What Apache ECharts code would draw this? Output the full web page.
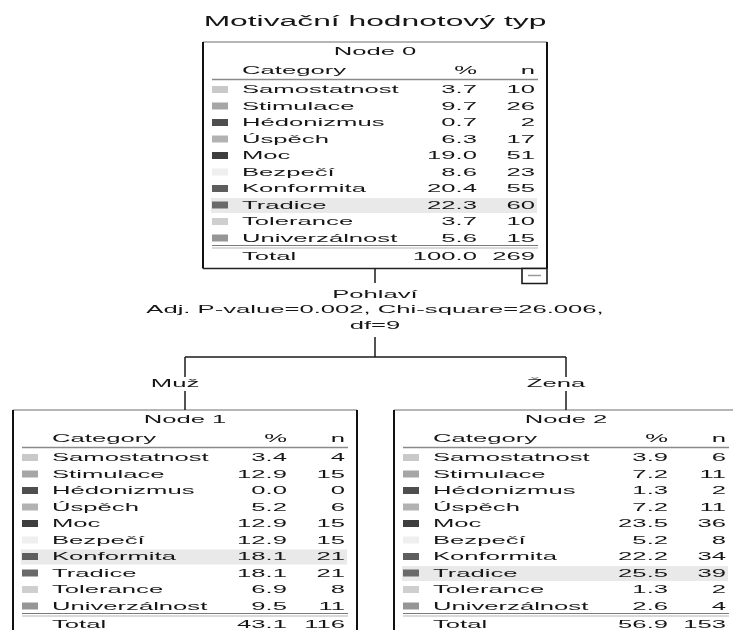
<!DOCTYPE html>
<html>
<head>
<meta charset="utf-8">
<script src="https://cdn.jsdelivr.net/npm/echarts/dist/echarts.min.js"></script>
<style>
html,body{margin:0;padding:0;background:#fff;}
#chart{width:733px;height:630px;}
</style>
</head>
<body>
<div id="chart"></div>
<script>
// ---- data ----
const titleText = 'Motivační hodnotový typ';
const categories = ['Samostatnost','Stimulace','Hédonizmus','Úspěch','Moc','Bezpečí','Konformita','Tradice','Tolerance','Univerzálnost'];
const nodeLabels = ['Node 0','Node 1','Node 2'];
const node0Pct = [3.7, 9.7, 0.7, 6.3, 19.0, 8.6, 20.4, 22.3, 3.7, 5.6];
const node0N   = [10, 26, 2, 17, 51, 23, 55, 60, 10, 15];
const node0Total = [100.0, 269];
const node1Pct = [3.4, 12.9, 0.0, 5.2, 12.9, 12.9, 18.1, 18.1, 6.9, 9.5];
const node1N   = [4, 15, 0, 6, 15, 15, 21, 21, 8, 11];
const node1Total = [43.1, 116];
const node2Pct = [3.9, 7.2, 1.3, 7.2, 23.5, 5.2, 22.2, 25.5, 1.3, 2.6];
const node2N   = [6, 11, 2, 11, 36, 8, 34, 39, 2, 4];
const node2Total = [56.9, 153];
const splitLines = ['Pohlaví', 'Adj. P-value=0.002, Chi-square=26.006,', 'df=9'];
const branchLabels = ['Muž', 'Žena'];
const headerLabels = ['Category', '%', 'n'];
const totalLabel = 'Total';

// ---- styles ----
const swatchColors = ['#c9c9c9','#a6a6a6','#4e4e4e','#b2b2b2','#3e3e3e','#efefef','#5e5e5e','#6a6a6a','#cfcfcf','#969696'];
const FONT = '"Liberation Sans", Arial, sans-serif';
const SX = 2.33;
const TXT = '#161616';

const chart = echarts.init(document.getElementById('chart'), null, {renderer: 'canvas'});
const els = [];

function text(str, x, y, size, align, sx) {
  els.push({
    type: 'text', x: x, y: y, scaleX: sx || SX, scaleY: 1,
    style: {text: str, font: size + 'px ' + FONT, fill: TXT,
      align: align, textAlign: align, verticalAlign: 'middle', textVerticalAlign: 'middle'}
  });
}
function line(x1, y1, x2, y2, color, w) {
  els.push({type: 'line', shape: {x1: x1, y1: y1, x2: x2, y2: y2},
    style: {stroke: color, lineWidth: w}});
}
function rect(x, y, w, h, fill, stroke, lw) {
  els.push({type: 'rect', shape: {x: x, y: y, width: w, height: h},
    style: {fill: fill || 'none', stroke: stroke || 'none', lineWidth: lw || 0}});
}

const BOXW = 344;
const ROW = 16.5;
function node(label, pct, n, total, left, top) {
  const hi = n.indexOf(Math.max.apply(null, n));
  const boxH = 48 + ROW * 9 + 8 + 11 + 11;
  rect(left, top, BOXW, boxH, '#fff', null, 0);
  // highlight row
  rect(left + 8, top + 48 + ROW * hi - 7.5, 326, 15, '#e9e9e9');
  text(label, left + BOXW / 2, top + 10, 11, 'center');
  text(headerLabels[0], left + 39, top + 29, 11, 'left');
  text(headerLabels[1], left + 274, top + 29, 11, 'right');
  text(headerLabels[2], left + 332, top + 29, 11, 'right');
  line(left + 9, top + 37.5, left + 335, top + 37.5, '#8a8a8a', 1.5);
  for (let i = 0; i < categories.length; i++) {
    const y = top + 48 + ROW * i;
    rect(left + 9, y - 4, 16, 7, swatchColors[i]);
    text(categories[i], left + 39, y, 11, 'left');
    text(pct[i].toFixed(1), left + 274, y, 11, 'right');
    text(String(n[i]), left + 332, y, 11, 'right');
  }
  const dl = top + 48 + ROW * 9 + 7;
  line(left + 9, dl, left + 335, dl, '#7a7a7a', 1.2);
  line(left + 9, dl + 2.5, left + 335, dl + 2.5, '#b5b5b5', 1.2);
  text(totalLabel, left + 39, dl + 11, 11, 'left');
  text(total[0].toFixed(1), left + 274, dl + 11, 11, 'right');
  text(String(total[1]), left + 332, dl + 11, 11, 'right');
  // border: light top, heavy sides
  line(left, top, left + BOXW, top, '#6e6e6e', 1.2);
  line(left, top, left, top + boxH, '#111', 2);
  line(left + BOXW, top, left + BOXW, top + boxH, '#111', 2);
  line(left, top + boxH, left + BOXW, top + boxH, '#222', 1.6);
  return {cx: left + BOXW / 2, bottom: top + boxH};
}

// title
text(titleText, 375, 22, 14, 'center', 2.27);

const n0 = node(nodeLabels[0], node0Pct, node0N, node0Total, 203, 42);
// collapse box
rect(n0.cx + BOXW / 2 - 25, n0.bottom, 25, 15, '#fff', '#1a1a1a', 1.6);
line(n0.cx + BOXW / 2 - 19, n0.bottom + 7, n0.cx + BOXW / 2 - 6, n0.bottom + 7, '#9a9a9a', 1.5);

const n1 = node(nodeLabels[1], node1Pct, node1N, node1Total, 13, 410);
const n2 = node(nodeLabels[2], node2Pct, node2N, node2Total, 394, 410);

// split
line(n0.cx, n0.bottom, n0.cx, 283, '#1a1a1a', 1.5);
text(splitLines[0], n0.cx, 295, 11, 'center');
text(splitLines[1], n0.cx, 310, 11, 'center');
text(splitLines[2], n0.cx, 326, 11, 'center');
line(n0.cx, 337, n0.cx, 357, '#1a1a1a', 1.5);
line(n1.cx, 357, n2.cx, 357, '#1a1a1a', 1.5);
[n1, n2].forEach(function (nd, k) {
  line(nd.cx, 357, nd.cx, 377, '#1a1a1a', 1.5);
  text(branchLabels[k], nd.cx - 10, 384, 11, 'center');
  line(nd.cx, 391, nd.cx, 410, '#1a1a1a', 1.5);
});

chart.setOption({
  backgroundColor: '#fff',
  animation: false,
  graphic: {elements: els}
});
</script>
</body>
</html>
